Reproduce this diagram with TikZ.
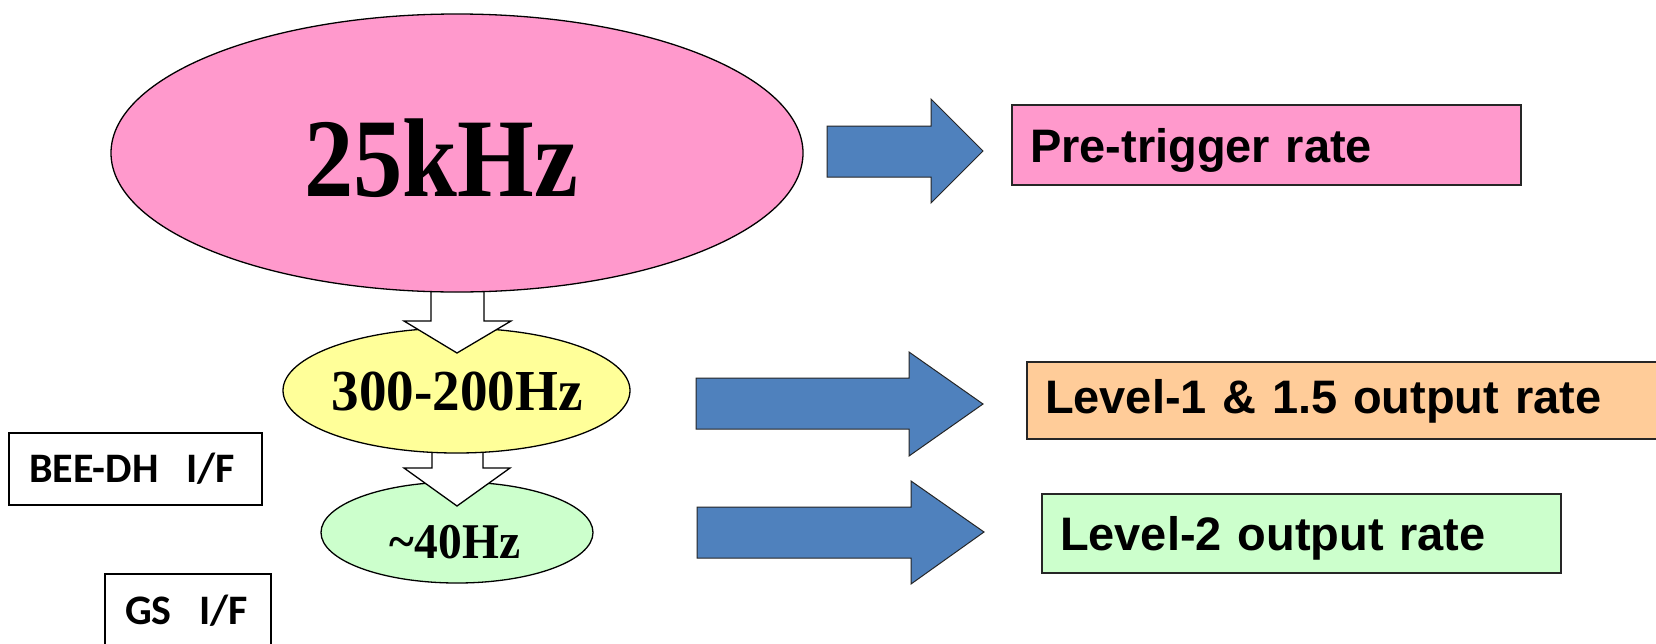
\documentclass[tikz,border=0pt]{standalone}
\usepackage{fontspec}
\setmainfont{Liberation Serif}
\newfontfamily\arialfont{Liberation Sans}
\newfontfamily\calibrifont{Carlito}
\usetikzlibrary{shapes.geometric,calc}

\definecolor{ratepink}{HTML}{FF99CC}
\definecolor{rateyellow}{HTML}{FFFF99}
\definecolor{rategreen}{HTML}{CCFFCC}
\definecolor{rateorange}{HTML}{FFCC99}
\definecolor{pushblue}{HTML}{4F81BD}

\tikzset{
  rate/.style={ellipse, draw=black, line width=1.3pt, inner sep=0pt},
  drop/.style={draw=black, line width=1.3pt, fill=white, line join=miter},
  push/.style={draw=black!85, line width=1pt, fill=pushblue, line join=miter},
  ratebox/.style={rectangle, draw=black!85, line width=1.6pt, inner xsep=18pt,
    inner ysep=0pt, align=left, text height=34pt, text depth=0pt,
    font=\arialfont\bfseries\fontsize{47}{51}\selectfont},
  ifbox/.style={rectangle, draw=black, line width=1.6pt, inner xsep=20pt,
    inner ysep=0pt, align=left, text height=27pt, text depth=0pt,
    font=\calibrifont\bfseries\fontsize{42}{46}\selectfont},
  ratelabel/.style={anchor=base, inner sep=0pt, font=\bfseries},
}

\begin{document}
\begin{tikzpicture}[x=1pt,y=-1pt]
\useasboundingbox (0,0) rectangle (1656,643);

% rate ellipses, drawn bottom-up so each drop arrow sits between them
\node[rate, fill=rategreen, minimum width=272pt, minimum height=101pt] (l2) at (457,532.5) {};
\draw[drop] (432,447) -- (432,468) -- (404,468) -- (457,506) -- (510,468) -- (483,468) -- (483,447) -- cycle;
\node[rate, fill=rateyellow, minimum width=347pt, minimum height=125pt] (l1) at (456.5,390.5) {};
\draw[drop] (431,286) -- (431,321) -- (404,321) -- (457,353) -- (511,321) -- (484,321) -- (484,286) -- cycle;
\node[rate, fill=ratepink, minimum width=692pt, minimum height=278pt] (pre) at (457,153) {};

% rate values
\node[ratelabel] (preval) at (441,196) {\fontsize{112}{118}\selectfont\scalebox{0.88}[1]{25kHz}};
\node[ratelabel] (l1val) at (457,410) {\fontsize{58}{62}\selectfont\scalebox{0.95}[1]{300-200Hz}};
\node[ratelabel] (l2val) at (455,558) {\fontsize{50}{54}\selectfont\scalebox{0.95}[1]{\textasciitilde 40Hz}};

% explanation boxes
\node[ratebox, fill=ratepink, text width=473pt, minimum height=80pt] (pretxt) at (1266.5,145) {Pre-trigger rate};
\node[ratebox, fill=rateorange, text width=657pt, minimum height=77pt, text depth=8pt] (l1txt) at (1373.5,400.5) {Level-1 \& 1.5 output rate};
\node[ratebox, fill=rategreen, text width=483pt, minimum height=79pt] (l2txt) at (1301.5,533.5) {Level-2 output rate};

% block arrows pointing at the boxes
\draw[push] (827,126) -- (931,126) -- (931,99) -- (983,151) -- (931,203) -- (931,177) -- (827,177) -- cycle;
\draw[push] (696,378) -- (909,378) -- (909,352) -- (983,404) -- (909,456) -- (909,429) -- (696,429) -- cycle;
\draw[push] (697,507) -- (911,507) -- (911,481) -- (984,532) -- (911,584) -- (911,558) -- (697,558) -- cycle;

% interface boxes
\node[ifbox, text width=213pt, minimum height=72pt] (bee) at (135.5,469) {BEE-DH~~I/F};
\node[ifbox, text width=126pt, minimum height=74pt] (gs) at (188,611) {GS~~I/F};
\end{tikzpicture}
\end{document}
